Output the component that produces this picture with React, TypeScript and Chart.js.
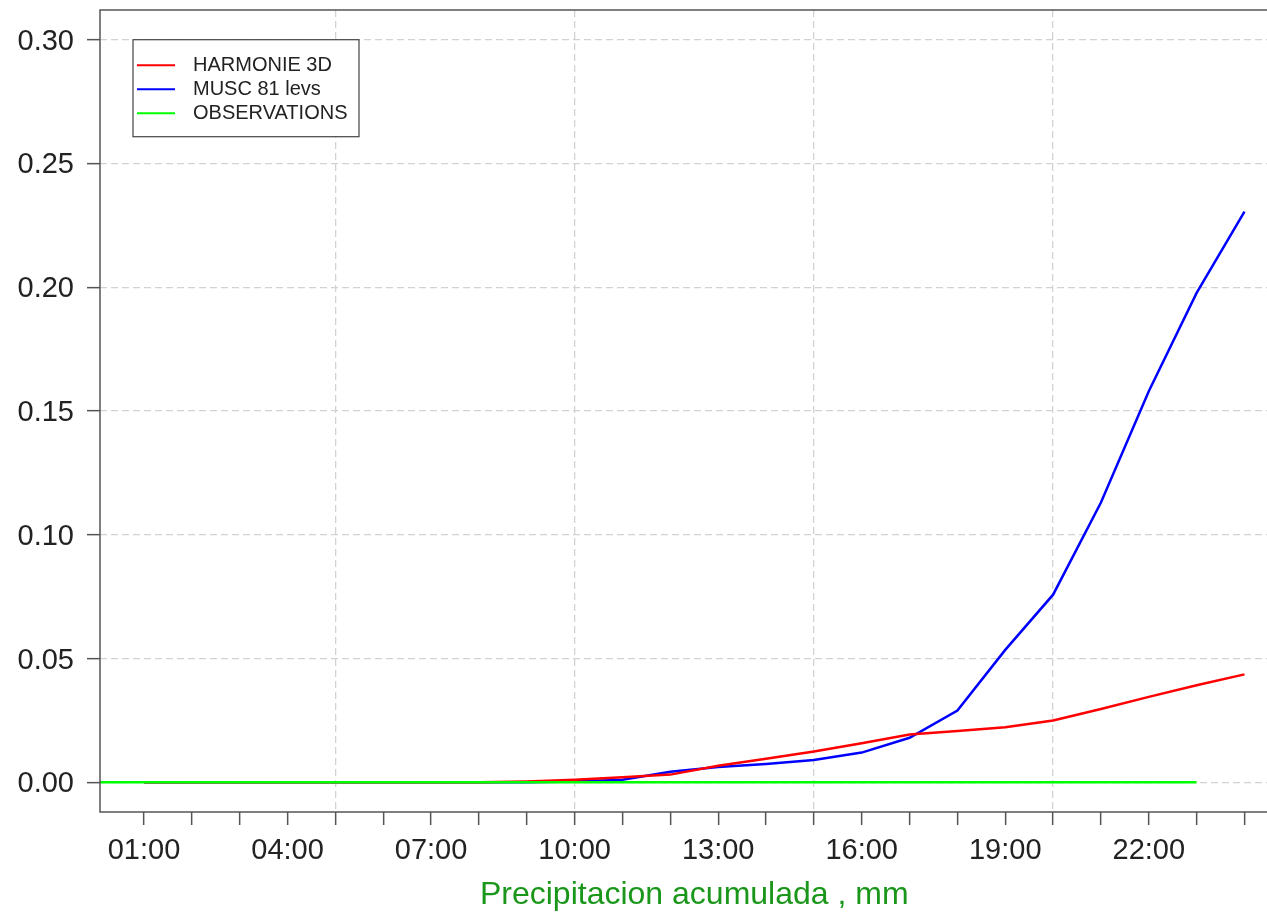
import { useEffect, useRef } from "react";
import { Chart, registerables } from "chart.js";

Chart.register(...registerables);

// ---- data ----
const hours = [1, 2, 3, 4, 5, 6, 7, 8, 9, 10, 11, 12, 13, 14, 15, 16, 17, 18, 19, 20, 21, 22, 23, 24];
const hourLabels = [
  "01:00", "02:00", "03:00", "04:00", "05:00", "06:00", "07:00", "08:00",
  "09:00", "10:00", "11:00", "12:00", "13:00", "14:00", "15:00", "16:00",
  "17:00", "18:00", "19:00", "20:00", "21:00", "22:00", "23:00", "24:00",
];
const labeledHours = ["01:00", "04:00", "07:00", "10:00", "13:00", "16:00", "19:00", "22:00"];
const gridHours = [5, 10, 15, 20];
const yTicks = [0, 0.05, 0.1, 0.15, 0.2, 0.25, 0.3];

const harmonie = [
  0, 0, 0, 0, 0, 0, 0, 0, 0.0003, 0.001, 0.002, 0.0031,
  0.0067, 0.0095, 0.0124, 0.0158, 0.0193, 0.0207, 0.0222, 0.025, 0.0296, 0.0345, 0.0392, 0.0436,
];
const musc = [
  0, 0, 0, 0, 0, 0, 0, 0, 0, 0.0003, 0.001, 0.0043,
  0.0062, 0.0074, 0.009, 0.012, 0.018, 0.029, 0.0535, 0.0758, 0.113, 0.158, 0.1977, 0.2305,
];
const obsHours = [0, 1, 2, 3, 4, 5, 6, 7, 8, 9, 10, 11, 12, 13, 14, 15, 16, 17, 18, 19, 20, 21, 22, 23];
const observations = [0, 0, 0, 0, 0, 0, 0, 0, 0, 0, 0, 0, 0, 0, 0, 0, 0, 0, 0, 0, 0, 0, 0, 0];

const seriesNames = ["HARMONIE 3D", "MUSC 81 levs", "OBSERVATIONS"];
const seriesColors = ["#ff0000", "#0000ff", "#00ff00"];
const xTitle = "Precipitacion acumulada , mm";

const FONT = "'Liberation Sans', Arial, Helvetica, sans-serif";

const framePlugin = {
  id: "frameAndLegend",
  afterDraw(chart: any) {
    const { ctx, chartArea: a } = chart;
    ctx.save();
    // plot box
    ctx.strokeStyle = "#555";
    ctx.lineWidth = 1.5;
    ctx.strokeRect(a.left, a.top, a.right - a.left, a.bottom - a.top);
    // legend
    const lx = a.left + 33;
    const ly = chart.scales.y.getPixelForValue(0.3);
    const lw = 226;
    const lh = 97;
    ctx.fillStyle = "#fff";
    ctx.fillRect(lx, ly, lw, lh);
    ctx.strokeStyle = "#444";
    ctx.lineWidth = 1.2;
    ctx.strokeRect(lx, ly, lw, lh);
    ctx.font = `20px ${FONT}`;
    ctx.textBaseline = "middle";
    ctx.textAlign = "left";
    seriesNames.forEach((name, i) => {
      const yy = ly + 25.5 + i * 24;
      ctx.strokeStyle = seriesColors[i];
      ctx.lineWidth = 2;
      ctx.beginPath();
      ctx.moveTo(lx + 4, yy);
      ctx.lineTo(lx + 42, yy);
      ctx.stroke();
      ctx.fillStyle = "#222";
      ctx.fillText(name, lx + 60, yy + 0.5);
    });
    ctx.restore();
  },
};

export default function App() {
  const ref = useRef<HTMLCanvasElement | null>(null);

  useEffect(() => {
    const canvas = ref.current;
    if (!canvas) return;
    const chart = new Chart(canvas, {
      type: "line",
      data: {
        datasets: [
          {
            label: seriesNames[0],
            data: hours.map((h, i) => ({ x: h, y: harmonie[i] })),
            borderColor: seriesColors[0],
            borderWidth: 2.5,
            pointRadius: 0,
            tension: 0,
            order: 1,
          },
          {
            label: seriesNames[1],
            data: hours.map((h, i) => ({ x: h, y: musc[i] })),
            borderColor: seriesColors[1],
            borderWidth: 2.5,
            pointRadius: 0,
            tension: 0,
            order: 2,
          },
          {
            label: seriesNames[2],
            data: obsHours.map((h, i) => ({ x: h, y: observations[i] })),
            borderColor: seriesColors[2],
            borderWidth: 2.5,
            pointRadius: 0,
            tension: 0,
            order: 0,
            clip: 0,
          },
        ],
      },
      options: {
        responsive: false,
        animation: false,
        events: [],
        layout: { padding: { left: 0, right: 11.5, top: 10, bottom: 0 } },
        plugins: {
          legend: { display: false },
          tooltip: { enabled: false },
          title: { display: false },
        },
        scales: {
          x: {
            type: "linear",
            min: 0.08,
            max: 24.92,
            afterBuildTicks: (scale: any) => {
              scale.ticks = hours.map((v) => ({ value: v }));
            },
            afterFit: (scale: any) => {
              scale.height = 105;
              scale.paddingLeft = 0;
              scale.paddingRight = 0;
            },
            ticks: {
              autoSkip: false,
              maxRotation: 0,
              minRotation: 0,
              padding: 9,
              color: "#222",
              font: { family: FONT, size: 29 },
              callback: (value: any) => {
                const lbl = hourLabels[hours.indexOf(Number(value))];
                return labeledHours.includes(lbl) ? lbl : "";
              },
            },
            grid: {
              drawOnChartArea: true,
              color: (ctx: any) =>
                ctx.tick && gridHours.includes(ctx.tick.value) ? "#d2d2d2" : "rgba(0,0,0,0)",
              lineWidth: 1.3,
              tickColor: "#555",
              tickLength: 13,
              tickWidth: 1.5,
              tickBorderDash: [],
            },
            border: { display: false, dash: [7, 4] },
            title: {
              display: true,
              text: xTitle,
              color: "#1a961a",
              font: { family: FONT, size: 32 },
              padding: { top: 0, bottom: 3 },
            },
          },
          y: {
            type: "linear",
            min: -0.012,
            max: 0.312,
            afterBuildTicks: (scale: any) => {
              scale.ticks = yTicks.map((v) => ({ value: v }));
            },
            afterFit: (scale: any) => {
              scale.width = 100;
              scale.paddingTop = 0;
              scale.paddingBottom = 0;
            },
            ticks: {
              padding: 13,
              labelOffset: 2,
              color: "#222",
              font: { family: FONT, size: 29 },
              callback: (value: any) => Number(value).toFixed(2),
            },
            grid: {
              color: "#d2d2d2",
              lineWidth: 1.3,
              tickColor: "#555",
              tickLength: 13,
              tickWidth: 1.5,
              tickBorderDash: [],
            },
            border: { display: false, dash: [7, 4] },
          },
        },
      },
      plugins: [framePlugin],
    });
    return () => chart.destroy();
  }, []);

  return (
    <div
      style={{
        position: "fixed",
        left: 0,
        top: 0,
        width: 1267,
        height: 917,
        overflow: "hidden",
        background: "#fff",
      }}
    >
      <canvas ref={ref} width={1300} height={917} style={{ display: "block" }} />
    </div>
  );
}
